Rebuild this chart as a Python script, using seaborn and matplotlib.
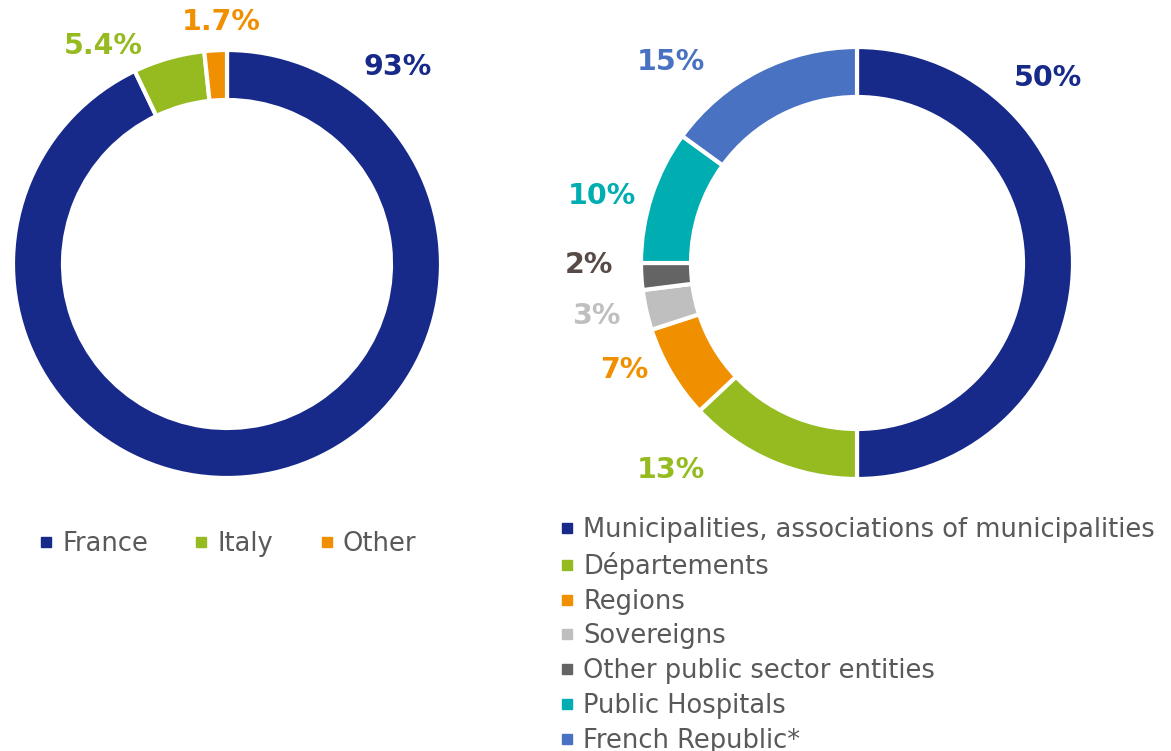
import matplotlib
matplotlib.use("Agg")
import matplotlib.pyplot as plt
from matplotlib.lines import Line2D
import seaborn as sns

# country split
country_labels = ["France", "Italy", "Other"]
country_shares = [93, 5.4, 1.7]
country_text = ["93%", "5.4%", "1.7%"]
country_colors = ["#172A8A", "#95BB20", "#F09000"]

# issuer split
issuer_labels = ["Municipalities, associations of municipalities", "Départements",
                 "Regions", "Sovereigns", "Other public sector entities",
                 "Public Hospitals", "French Republic*"]
issuer_shares = [50, 13, 7, 3, 2, 10, 15]
issuer_text = ["50%", "13%", "7%", "3%", "2%", "10%", "15%"]
issuer_colors = ["#172A8A", "#95BB20", "#F09000", "#BFBFBF", "#646464", "#00AEB2", "#4A72C2"]
issuer_text_colors = ["#172A8A", "#95BB20", "#F09000", "#BFBFBF", "#574A47", "#00AEB2", "#4A72C2"]

# label spots in pixels (from top-left)
country_label_pos = [(398, 67), (103, 46), (221, 22)]
issuer_label_pos = [(1048, 78), (671, 470), (624, 370), (596, 316), (589, 265), (602, 196), (671, 62)]

sns.set_theme(style="white")
plt.rcParams["font.family"] = ["DejaVu Sans"]

W, H = 1171, 751
fig = plt.figure(figsize=(W / 100, H / 100), dpi=100)
ax = fig.add_axes([0, 0, 1, 1])

wp = dict(width=50, edgecolor="white", linewidth=3)
ax.pie(country_shares, colors=country_colors, startangle=90, counterclock=False,
       radius=214, center=(227, H - 264), wedgeprops=wp)
ax.pie(issuer_shares, colors=issuer_colors, startangle=90, counterclock=False,
       radius=216, center=(857, H - 263), wedgeprops=wp)

for (x, y), t, c in zip(country_label_pos, country_text, country_colors):
    ax.text(x, H - y, t, color=c, fontsize=20.5, fontweight="bold", ha="center", va="center")
for (x, y), t, c in zip(issuer_label_pos, issuer_text, issuer_text_colors):
    ax.text(x, H - y, t, color=c, fontsize=20.5, fontweight="bold", ha="center", va="center")

ax.set_xlim(0, W)
ax.set_ylim(0, H)
ax.set_aspect("equal")
ax.axis("off")

def handles(colors):
    return [Line2D([], [], marker="s", ls="", color=c, markersize=7) for c in colors]

leg1 = ax.legend(handles(country_colors), country_labels, loc="center left",
                 bbox_to_anchor=(16, H - 544), bbox_transform=ax.transData,
                 ncol=3, frameon=False, fontsize=18.5, handlelength=0.55,
                 handletextpad=0.35, columnspacing=1.8, labelcolor="#595959")
ax.add_artist(leg1)
ax.legend(handles(issuer_colors), issuer_labels, loc="upper left",
          bbox_to_anchor=(537, H - 494), bbox_transform=ax.transData,
          frameon=False, fontsize=18.5, handlelength=0.55, handletextpad=0.35,
          labelspacing=0.34, labelcolor="#595959")

fig.savefig("out.png", dpi=100)
